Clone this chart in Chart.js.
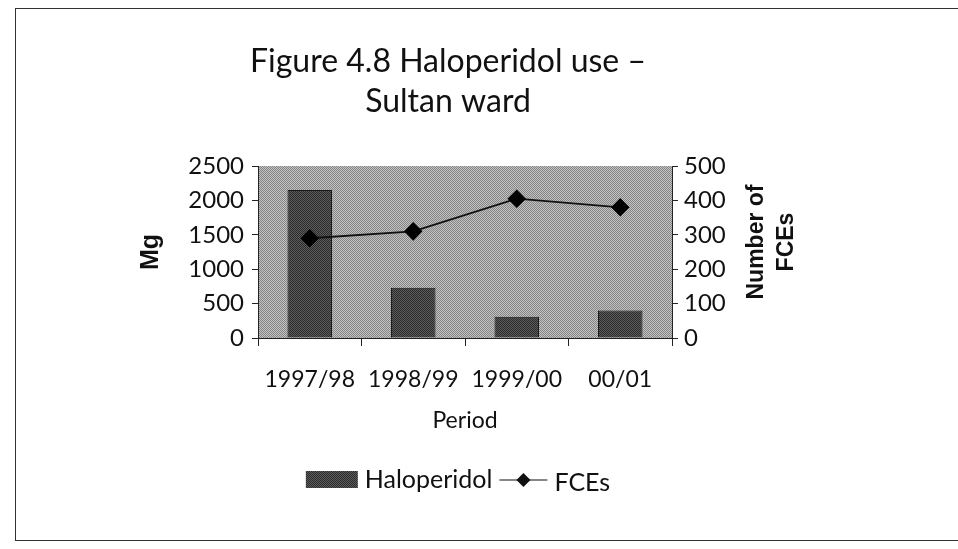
<!DOCTYPE html>
<html>
<head>
<meta charset="utf-8">
<script src="https://cdn.jsdelivr.net/npm/chart.js@4.4.1/dist/chart.umd.min.js"></script>
<style>
  html, body { margin: 0; padding: 0; background: #fff; }
  #wrap { position: relative; width: 958px; height: 549px; overflow: hidden; }
  #frame { position: absolute; left: 15px; top: 8px; width: 945px; height: 531px; border: 1px solid #333; border-right: none; }
  canvas { position: absolute; left: 0; top: 0; }
</style>
</head>
<body>
<div id="wrap">
  <div id="frame"></div>
  <canvas id="chart" width="958" height="549"></canvas>
</div>
<script>
// ---- data ----
const periods = ['1997/98', '1998/99', '1999/00', '00/01'];
const haloperidolMg = [2150, 730, 310, 400];
const fceCounts = [290, 310, 405, 380];
const mgTicks = [0, 500, 1000, 1500, 2000, 2500];
const fceTicks = [0, 100, 200, 300, 400, 500];

const FONT = 'Lato';
const INK = '#111';

// halftone-ish fills (scanned print look)
function makePattern(a, b) {
  const c = document.createElement('canvas');
  c.width = 2; c.height = 2;
  const g = c.getContext('2d');
  g.fillStyle = a; g.fillRect(0, 0, 2, 2);
  g.fillStyle = b; g.fillRect(0, 0, 1, 1); g.fillRect(1, 1, 1, 1);
  return g.createPattern(c, 'repeat');
}
const ctx = document.getElementById('chart').getContext('2d');
const plotFill = makePattern('#c2c2c2', '#858585');
const barFill = makePattern('#5e5e5e', '#2a2a2a');

// gray plot area behind everything
const plotBg = {
  id: 'plotBg',
  beforeDraw(chart) {
    const { ctx, chartArea: a } = chart;
    ctx.save();
    ctx.fillStyle = plotFill;
    ctx.fillRect(a.left, a.top, a.right - a.left, a.bottom - a.top);
    ctx.restore();
  }
};

// right axis title reads bottom-to-top, two lines
const rightTitle = {
  id: 'rightTitle',
  afterDraw(chart) {
    const { ctx, chartArea: a } = chart;
    ctx.save();
    ctx.translate(a.right + 100, (a.top + a.bottom) / 2 - 10);
    ctx.rotate(-Math.PI / 2);
    ctx.fillStyle = INK;
    ctx.font = 'bold 23px "Liberation Sans"';
    ctx.textAlign = 'center';
    ctx.textBaseline = 'middle';
    ctx.fillText('Number of', 0, -15);
    ctx.fillText('FCEs', 0, 15);
    ctx.restore();
  }
};

// legend: bar swatch + line-with-diamond
const legendBox = {
  id: 'legendBox',
  afterDraw(chart) {
    const { ctx, chartArea: a } = chart;
    const y = a.bottom + 142;
    ctx.save();
    ctx.font = '25px ' + FONT;
    ctx.textBaseline = 'middle';
    const t1 = chart.data.datasets[0].label;
    const t2 = chart.data.datasets[1].label;
    const sw = 52, ln = 48, gap = 7, gap2 = 7;
    const w = sw + gap + ctx.measureText(t1).width + gap2 + ln + gap + ctx.measureText(t2).width;
    let x = 458 - w / 2;
    ctx.fillStyle = barFill;
    ctx.fillRect(x, y - 9, sw, 17);
    x += sw + gap;
    ctx.fillStyle = INK;
    ctx.fillText(t1, x, y);
    x += ctx.measureText(t1).width + gap2;
    ctx.strokeStyle = INK; ctx.lineWidth = 1.2;
    ctx.beginPath(); ctx.moveTo(x, y); ctx.lineTo(x + ln, y); ctx.stroke();
    const cx = x + ln / 2;
    ctx.beginPath();
    ctx.moveTo(cx, y - 7); ctx.lineTo(cx + 7, y); ctx.lineTo(cx, y + 7); ctx.lineTo(cx - 7, y);
    ctx.closePath(); ctx.fill();
    x += ln + gap;
    ctx.fillText(t2, x, y + 3);
    ctx.restore();
  }
};

const plain = v => String(v);

new Chart(ctx, {
  data: {
    labels: periods,
    datasets: [{
      type: 'bar',
      label: 'Haloperidol',
      data: haloperidolMg,
      yAxisID: 'y',
      backgroundColor: barFill,
      borderColor: '#1a1a1a',
      borderWidth: 1,
      barPercentage: 0.5,
      categoryPercentage: 0.86,
      order: 2
    }, {
      type: 'line',
      label: 'FCEs',
      data: fceCounts,
      yAxisID: 'y1',
      borderColor: INK,
      borderWidth: 1.8,
      tension: 0,
      pointStyle: 'rectRot',
      pointRadius: 8,
      pointBackgroundColor: '#000',
      pointBorderColor: '#000',
      order: 1
    }]
  },
  options: {
    responsive: false,
    animation: false,
    layout: { padding: { top: 42, left: 106, right: 168, bottom: 111 } },
    plugins: {
      legend: { display: false },
      tooltip: { enabled: false },
      title: {
        display: true,
        text: ['Figure 4.8 Haloperidol use –', 'Sultan ward'],
        color: INK,
        font: { family: FONT, size: 32, lineHeight: 1.25, weight: 'normal' },
        padding: { top: 0, bottom: 44 }
      }
    },
    scales: {
      x: {
        offset: true,
        grid: { offset: true, drawOnChartArea: false, tickLength: 8, color: '#222' },
        border: { color: '#222', width: 1 },
        ticks: { color: INK, font: { family: FONT, size: 23 }, padding: 20, maxRotation: 0 },
        title: { display: true, text: 'Period', color: INK, font: { family: FONT, size: 23 }, padding: { top: 4 } },
        afterFit(s) { s.height = 100; }
      },
      y: {
        position: 'left',
        min: 0, max: 2500,
        afterBuildTicks(s) { s.ticks = mgTicks.map(v => ({ value: v })); },
        grid: { drawOnChartArea: false, tickLength: 6, color: '#222' },
        border: { color: '#222', width: 1 },
        ticks: { color: INK, font: { family: FONT, size: 24 }, padding: 8, callback: plain },
        title: { display: true, text: 'Mg', color: INK, font: { family: 'Liberation Sans', size: 25, weight: 'bold' }, padding: { top: 30, bottom: 0 } },
        afterFit(s) { s.width = 152; }
      },
      y1: {
        position: 'right',
        min: 0, max: 500,
        afterBuildTicks(s) { s.ticks = fceTicks.map(v => ({ value: v })); },
        grid: { drawOnChartArea: false, tickLength: 6, color: '#222' },
        border: { color: '#222', width: 1 },
        ticks: { color: INK, font: { family: FONT, size: 24 }, padding: 6, callback: plain },
        afterFit(s) { s.width = 118; }
      }
    }
  },
  plugins: [plotBg, rightTitle, legendBox]
});
</script>
</body>
</html>
